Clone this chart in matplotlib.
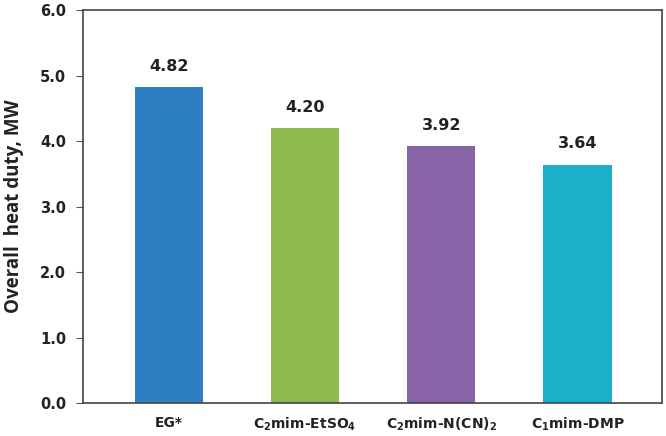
import numpy as np
import matplotlib.pyplot as plt

# Data
categories = ['EG*', r'C$_2$mim-EtSO$_4$', r'C$_2$mim-N(CN)$_2$', r'C$_1$mim-DMP']
heat_duty = [4.82, 4.20, 3.92, 3.64]
bar_colors = ['#2E7EC4', '#8DBB4E', '#8763A8', '#1BAFC9']
y_ticks = [0.0, 1.0, 2.0, 3.0, 4.0, 5.0, 6.0]

plt.rcParams['font.family'] = ['DejaVu Sans']
plt.rcParams['mathtext.fontset'] = 'custom'
plt.rcParams['mathtext.rm'] = 'DejaVu Sans:bold'
plt.rcParams['mathtext.it'] = 'DejaVu Sans:bold'

fig = plt.figure(figsize=(6.66, 4.36), dpi=100)
ax = fig.add_axes([83 / 666, 1 - 403 / 436, 579 / 666, 393 / 436])

x = np.arange(len(categories))
ax.bar(x, heat_duty, width=0.5, color=bar_colors)

# value labels above bars
for xi, val in zip(x, heat_duty):
    ax.text(xi, val + 0.2, f'{val:.2f}', ha='center', va='bottom',
            fontsize=11.5, fontweight='bold', color='#222222')

ax.set_xlim(-0.63, 3.62)
ax.set_ylim(0, 6)
ax.set_yticks(y_ticks)
ax.set_yticklabels([f'{t:.1f}' for t in y_ticks], fontsize=10.5, fontweight='bold', color='#222222')
ax.set_xticks(x)
ax.set_xticklabels(categories, fontsize=10, fontweight='bold', color='#222222')
ax.tick_params(axis='x', length=0, pad=9)
ax.tick_params(axis='y', length=5, color='#555555', direction='out', pad=7)
ax.set_ylabel('Overall  heat duty, MW', fontsize=13.5, fontweight='bold',
              fontfamily='Open Sans', color='#222222', labelpad=12)

for s in ax.spines.values():
    s.set_color('#444444')
    s.set_linewidth(1.2)

fig.savefig('out.png', dpi=100)
